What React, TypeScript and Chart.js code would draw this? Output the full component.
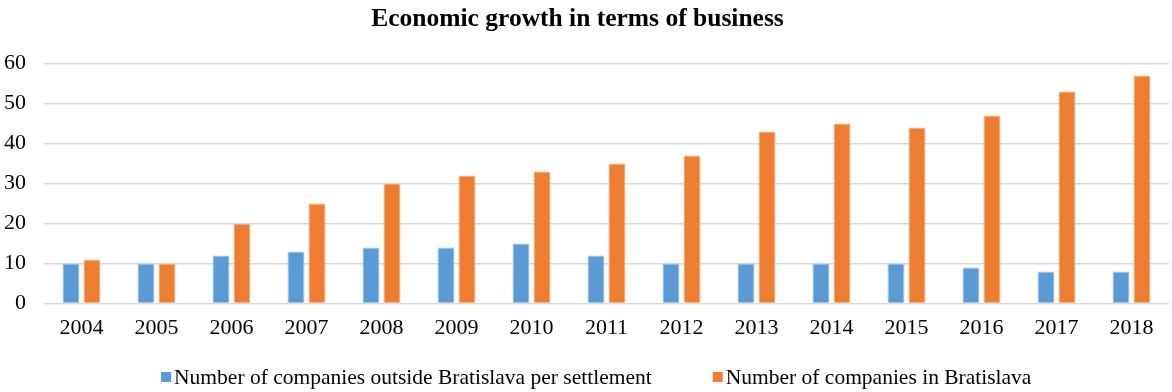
import React, { useEffect, useRef } from "react";
import { Chart, registerables } from "chart.js";

Chart.register(...registerables);

const years = ["2004","2005","2006","2007","2008","2009","2010","2011","2012","2013","2014","2015","2016","2017","2018"];
const outsideBratislava = [10,10,12,13,14,14,15,12,10,10,10,10,9,8,8];
const inBratislava = [11,10,20,25,30,32,33,35,37,43,45,44,47,53,57];
const seriesLabels = ["Number of companies outside Bratislava per settlement", "Number of companies in Bratislava"];
const seriesColors = ["#5B9BD5", "#ED7D31"];
const titleText = "Economic growth in terms of business";

const FONT = "'Liberation Serif', 'Times New Roman', serif";

// Bottom legend drawn from the datasets: small square, 3px gap, text; 61px between items
const bottomLegend = {
  id: "bottomLegend",
  afterDraw(chart: any) {
    const { ctx, chartArea } = chart;
    const datasets = chart.data.datasets;
    ctx.save();
    ctx.font = `21.5px ${FONT}`;
    ctx.textBaseline = "middle";
    ctx.textAlign = "left";
    const box = 10, gap = 3, itemGap = 61;
    const widths = datasets.map((d: any) => box + gap + ctx.measureText(d.label).width);
    const total = widths.reduce((a: number, b: number) => a + b, 0) + itemGap * (datasets.length - 1);
    const center = (chart.width / 2 + (chartArea.left + chartArea.right) / 2) / 2;
    let x = center - total / 2;
    const y = chart.height - 14;
    datasets.forEach((d: any, i: number) => {
      ctx.fillStyle = d.backgroundColor;
      ctx.fillRect(x, y - box / 2 - 1, box, box);
      ctx.fillStyle = "#000";
      ctx.fillText(d.label, x + box + gap, y);
      x += widths[i] + itemGap;
    });
    ctx.restore();
  },
};

export default function App() {
  const ref = useRef<HTMLCanvasElement | null>(null);
  useEffect(() => {
    document.body.style.margin = "0";
    const ctx = ref.current!;
    const chart = new Chart(ctx, {
      type: "bar",
      data: {
        labels: years,
        datasets: [
          { label: seriesLabels[0], data: outsideBratislava, backgroundColor: seriesColors[0], borderColor: "#9DC3E6", borderWidth: 1, categoryPercentage: 0.56, barPercentage: 0.81 },
          { label: seriesLabels[1], data: inBratislava, backgroundColor: seriesColors[1], borderColor: "#F4B183", borderWidth: 1, categoryPercentage: 0.56, barPercentage: 0.81 },
        ],
      },
      options: {
        animation: false,
        responsive: false,
        maintainAspectRatio: false,
        layout: { padding: { left: -14, right: 3, top: 0, bottom: 48 } },
        plugins: {
          title: { display: true, text: titleText, color: "#000", font: { family: FONT, size: 25.5, weight: "bold" }, padding: { top: 4, bottom: 29 } },
          legend: { display: false },
          tooltip: { enabled: false },
        },
        scales: {
          x: {
            grid: { display: false },
            border: { display: false },
            ticks: { color: "#000", font: { family: FONT, size: 22 }, padding: 3, maxRotation: 0 },
          },
          y: {
            min: 0, max: 60,
            ticks: { stepSize: 10, color: "#000", font: { family: FONT, size: 22 }, padding: 18 },
            grid: { color: "#d9d9d9", lineWidth: 1.5, drawTicks: false },
            border: { display: false },
          },
        },
      },
      plugins: [bottomLegend],
    });
    return () => chart.destroy();
  }, []);
  return <canvas ref={ref} width={1172} height={392} style={{ display: "block" }} />;
}
